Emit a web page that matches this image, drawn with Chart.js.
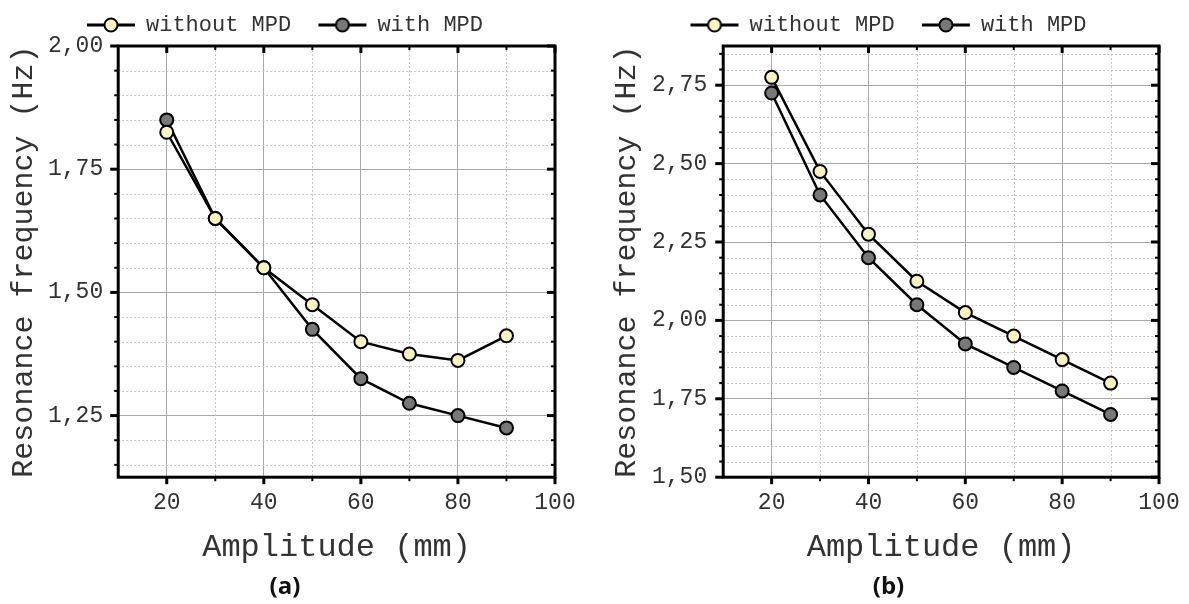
<!DOCTYPE html>
<html>
<head>
<meta charset="utf-8">
<script src="https://cdn.jsdelivr.net/npm/chart.js@4.4.1/dist/chart.umd.min.js"></script>
<style>
  html, body { margin: 0; padding: 0; background: #fff; overflow: hidden; }
  .wrap { position: absolute; top: 0; height: 604px; }
  #wrapA { left: 0; width: 580px; }
  #wrapB { left: 598px; width: 591px; }
</style>
</head>
<body>
<div class="wrap" id="wrapA"><canvas id="chartA"></canvas></div>
<div class="wrap" id="wrapB"><canvas id="chartB"></canvas></div>
<script>
// amplitude in mm
const amplitude = [20, 30, 40, 50, 60, 70, 80, 90];

// (a) resonance frequency, Hz
const withoutA = [1.825, 1.65, 1.55, 1.475, 1.40, 1.375, 1.362, 1.412];
const withA    = [1.85, 1.65, 1.55, 1.425, 1.325, 1.275, 1.25, 1.225];

// (b) resonance frequency, Hz
const withoutB = [2.775, 2.475, 2.275, 2.125, 2.025, 1.95, 1.875, 1.80];
const withB    = [2.725, 2.40, 2.20, 2.05, 1.925, 1.85, 1.775, 1.70];

const xTicks  = [20, 40, 60, 80, 100];
const yTicksA = [1.25, 1.50, 1.75, 2.00];
const yTicksB = [1.50, 1.75, 2.00, 2.25, 2.50, 2.75];

const seriesNames = ['without MPD', 'with MPD'];
const seriesFill  = ['#f8f4c2', '#787878'];

const mono = "'Liberation Mono', 'Courier New', monospace";

// legend marker: short line with a circle in the middle
const markerIcon = fill => {
  const c = document.createElement('canvas');
  c.width = 50; c.height = 18;
  const g = c.getContext('2d');
  g.strokeStyle = '#000';
  g.lineWidth = 3;
  g.beginPath(); g.moveTo(1, 9); g.lineTo(49, 9); g.stroke();
  g.beginPath(); g.arc(25, 9, 6.5, 0, Math.PI * 2);
  g.fillStyle = fill; g.fill();
  g.lineWidth = 2; g.stroke();
  return c;
};
const markers = seriesFill.map(markerIcon);

const isOn = (v, step) => Math.abs(v / step - Math.round(v / step)) < 1e-6;

// minor dotted grid, frame and in/out ticks
const framePlugin = {
  id: 'frame',
  beforeDatasetsDraw(chart, args, opts) {
    const { ctx, chartArea: a, scales: { x, y } } = chart;
    ctx.save();
    ctx.strokeStyle = '#c4c4c4';
    ctx.lineWidth = 1;
    ctx.setLineDash([2, 2]);
    for (let v = x.min + opts.xStep; v < x.max - 1e-9; v += opts.xStep) {
      if (isOn(v, opts.xMajor)) continue;
      const px = Math.round(x.getPixelForValue(v)) + 0.5;
      ctx.beginPath(); ctx.moveTo(px, a.top); ctx.lineTo(px, a.bottom); ctx.stroke();
    }
    const y0 = Math.ceil(y.min / opts.yStep - 1e-6) * opts.yStep;
    for (let v = y0; v < y.max - 1e-9; v += opts.yStep) {
      if (isOn(v, opts.yMajor) || v <= y.min + 1e-9) continue;
      const py = Math.round(y.getPixelForValue(v)) + 0.5;
      ctx.beginPath(); ctx.moveTo(a.left, py); ctx.lineTo(a.right, py); ctx.stroke();
    }
    ctx.restore();
  },
  afterDatasetsDraw(chart, args, opts) {
    const { ctx, chartArea: a, scales: { x, y } } = chart;
    ctx.save();
    ctx.strokeStyle = '#000';
    // x ticks: outward at bottom, inward at top
    for (let v = x.min + opts.xStep; v <= x.max + 1e-9; v += opts.xStep) {
      const major = isOn(v, opts.xMajor);
      const len = major ? 7 : 4;
      ctx.lineWidth = major ? 3 : 2;
      const px = x.getPixelForValue(v);
      ctx.beginPath(); ctx.moveTo(px, a.bottom); ctx.lineTo(px, a.bottom + len); ctx.stroke();
      ctx.beginPath(); ctx.moveTo(px, a.top); ctx.lineTo(px, a.top + len); ctx.stroke();
    }
    // y ticks: outward at left, inward at right
    const y0 = Math.ceil(y.min / opts.yStep - 1e-6) * opts.yStep;
    for (let v = y0; v <= y.max + 1e-9; v += opts.yStep) {
      const major = isOn(v, opts.yMajor);
      const len = major ? 8 : 4;
      ctx.lineWidth = major ? 3 : 2;
      const py = y.getPixelForValue(v);
      ctx.beginPath(); ctx.moveTo(a.left, py); ctx.lineTo(a.left - len, py); ctx.stroke();
      ctx.beginPath(); ctx.moveTo(a.right, py); ctx.lineTo(a.right - len, py); ctx.stroke();
    }
    ctx.lineWidth = 3;
    ctx.strokeRect(a.left, a.top, a.right - a.left, a.bottom - a.top);
    ctx.restore();
  }
};

const makeChart = (id, label, seriesA, seriesB, yMin, yMax, yTicks, padLeft, padRight, tickPad) => new Chart(document.getElementById(id), {
  type: 'line',
  data: {
    datasets: [seriesA, seriesB].map((vals, i) => ({
      label: seriesNames[i],
      data: amplitude.map((a, k) => ({ x: a, y: vals[k] })),
      borderColor: '#000',
      borderWidth: 2.5,
      pointRadius: 6.5,
      pointBorderWidth: 2,
      pointBorderColor: '#000',
      pointBackgroundColor: seriesFill[i],
      tension: 0
    }))
  },
  plugins: [framePlugin],
  options: {
    responsive: true,
    maintainAspectRatio: false,
    animation: false,
    layout: { padding: { left: padLeft, right: padRight, top: 0, bottom: 0 } },
    plugins: {
      tooltip: { enabled: false },
      frame: { xStep: 10, xMajor: 20, yStep: 0.05, yMajor: 0.25 },
      legend: {
        position: 'top',
        labels: {
          usePointStyle: true,
          pointStyleWidth: 48,
          padding: 14,
          color: '#333',
          font: { family: mono, size: 22 },
          generateLabels: chart => {
            const items = Chart.defaults.plugins.legend.labels.generateLabels(chart);
            items.forEach((it, i) => {
              it.pointStyle = markers[i];
              if (i === 0) it.text += '\u00a0';
            });
            return items;
          }
        }
      },
      title: {
        display: true,
        position: 'bottom',
        text: label,
        color: '#111',
        font: { family: "'Open Sans', sans-serif", size: 24, weight: 'bold' },
        padding: { top: 2, bottom: 2 }
      }
    },
    scales: {
      x: {
        type: 'linear',
        min: 10,
        max: 100,
        afterBuildTicks: s => { s.ticks = xTicks.map(v => ({ value: v })); },
        afterFit: s => { s.paddingLeft = 0; s.paddingRight = 0; },
        grid: { color: '#a8a8a8', lineWidth: 1, drawTicks: false },
        border: { display: false },
        ticks: { padding: 12, color: '#333', font: { family: mono, size: 23 } },
        title: {
          display: true,
          text: 'Amplitude (mm)',
          color: '#333',
          font: { family: mono, size: 32 },
          padding: { top: 0, bottom: 4 }
        }
      },
      y: {
        type: 'linear',
        min: yMin,
        max: yMax,
        afterBuildTicks: s => { s.ticks = yTicks.map(v => ({ value: v })); },
        grid: { color: '#a8a8a8', lineWidth: 1, drawTicks: false },
        border: { display: false },
        ticks: {
          padding: tickPad,
          color: '#333',
          font: { family: mono, size: 23 },
          callback: v => v.toFixed(2).replace('.', ',')
        },
        title: {
          display: true,
          text: 'Resonance frequency (Hz)',
          color: '#333',
          font: { family: mono, size: 30, lineHeight: 0.6 },
          padding: 0
        }
      }
    }
  }
});

makeChart('chartA', '(a)', withoutA, withA, 1.125, 2.0, yTicksA, 15, 25, 15);
makeChart('chartB', '(b)', withoutB, withB, 1.5, 2.875, yTicksB, 20, 30, 16);
</script>
</body>
</html>
